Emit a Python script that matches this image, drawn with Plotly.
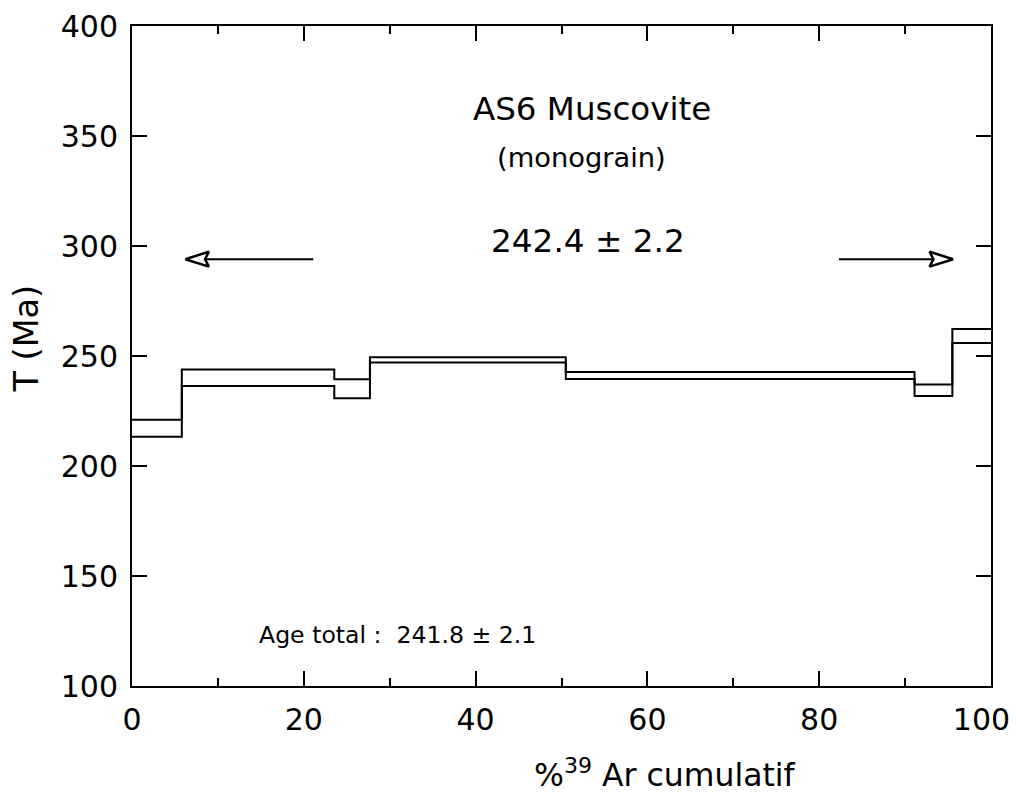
import plotly.graph_objects as go

# Step boundaries (% 39Ar cumulatif) and apparent ages (Ma), upper / lower of each step
step_edges = [0, 5.8, 23.55, 27.7, 50.5, 91.1, 95.5, 100]
age_high = [221.0, 243.9, 239.4, 249.4, 242.7, 237.0, 262.3]
age_low = [213.3, 236.4, 230.8, 247.0, 239.5, 231.8, 255.9]

# Plateau arrows: (tail x, tip x) at plateau-arrow height
arrow_left = (21.1, 6.2)
arrow_right = (82.3, 95.6)
arrow_y = 294

x_ticks = [0, 20, 40, 60, 80, 100]
x_ticktext = ["0", "20", "40", "60", "80", "100\u00a0\u00a0"]
y_ticks = [100, 150, 200, 250, 300, 350, 400]

FONT = "DejaVu Sans"

fig = go.Figure()

for vals in (age_high, age_low):
    fig.add_trace(go.Scatter(
        x=step_edges, y=vals + [vals[-1]], mode="lines", line_shape="hv",
        line=dict(color="black", width=2), showlegend=False, hoverinfo="skip"))

def arrow(tail, tip, y):
    d = 1 if tip > tail else -1
    head_len, notch, half_h = 2.75, 2.3, 3.4
    back = tip - d * head_len
    nx = tip - d * notch
    fig.add_trace(go.Scatter(x=[tail, nx], y=[y, y], mode="lines",
                             line=dict(color="black", width=2),
                             showlegend=False, hoverinfo="skip"))
    fig.add_trace(go.Scatter(x=[tip, back, nx, back, tip],
                             y=[y, y + half_h, y, y - half_h, y], mode="lines",
                             line=dict(color="black", width=2.5),
                             showlegend=False, hoverinfo="skip"))

arrow(arrow_left[0], arrow_left[1], arrow_y)
arrow(arrow_right[0], arrow_right[1], arrow_y)

annos = [
    dict(x=53.5, y=362.5, text="AS6 Muscovite", size=32.5),
    dict(x=52.3, y=340.2, text="(monograin)", size=27.3),
    dict(x=53.1, y=302.2, text="242.4 ± 2.2", size=32.7),
]
for a in annos:
    fig.add_annotation(x=a["x"], y=a["y"], xref="x", yref="y", text=a["text"],
                       showarrow=False, font=dict(family=FONT, size=a["size"], color="black"),
                       xanchor="center", yanchor="middle")

fig.add_annotation(x=14.5, y=123.2, xref="x", yref="y", text="Age total :  241.8 ± 2.1",
                   showarrow=False, xanchor="left", yanchor="middle",
                   font=dict(family=FONT, size=23.6, color="black"))

# Axis titles
fig.add_annotation(x=0.621, y=-0.132, xref="paper", yref="paper",
                   text="%<sup>39</sup> Ar cumulatif", showarrow=False,
                   xanchor="center", yanchor="middle",
                   font=dict(family=FONT, size=31.5, color="black"))
fig.add_annotation(x=-0.123, y=0.527, xref="paper", yref="paper",
                   text="T (Ma)", showarrow=False, textangle=-90,
                   xanchor="center", yanchor="middle",
                   font=dict(family=FONT, size=33.5, color="black"))

axis_common = dict(showgrid=False, zeroline=False, showline=True, linecolor="black",
                   linewidth=2, ticks="inside", tickcolor="black", tickwidth=2,
                   ticklen=15, mirror="ticks", ticklabelstandoff=6,
                   ticklabeloverflow="allow",
                   tickfont=dict(family=FONT, size=30, color="black"))

fig.update_xaxes(range=[0, 100], tickvals=x_ticks, ticktext=x_ticktext,
                 minor=dict(dtick=10, ticks="inside", ticklen=8, tickcolor="black",
                            tickwidth=2),
                 **axis_common)
fig.update_yaxes(range=[100, 400], tickvals=y_ticks, ticktext=[str(v) for v in y_ticks],
                 **axis_common)

fig.update_layout(width=1009, height=788, plot_bgcolor="white", paper_bgcolor="white",
                  margin=dict(l=124, r=26, t=18, b=110, autoexpand=False),
                  font=dict(family=FONT, color="black"))

fig.write_html("out.html")
